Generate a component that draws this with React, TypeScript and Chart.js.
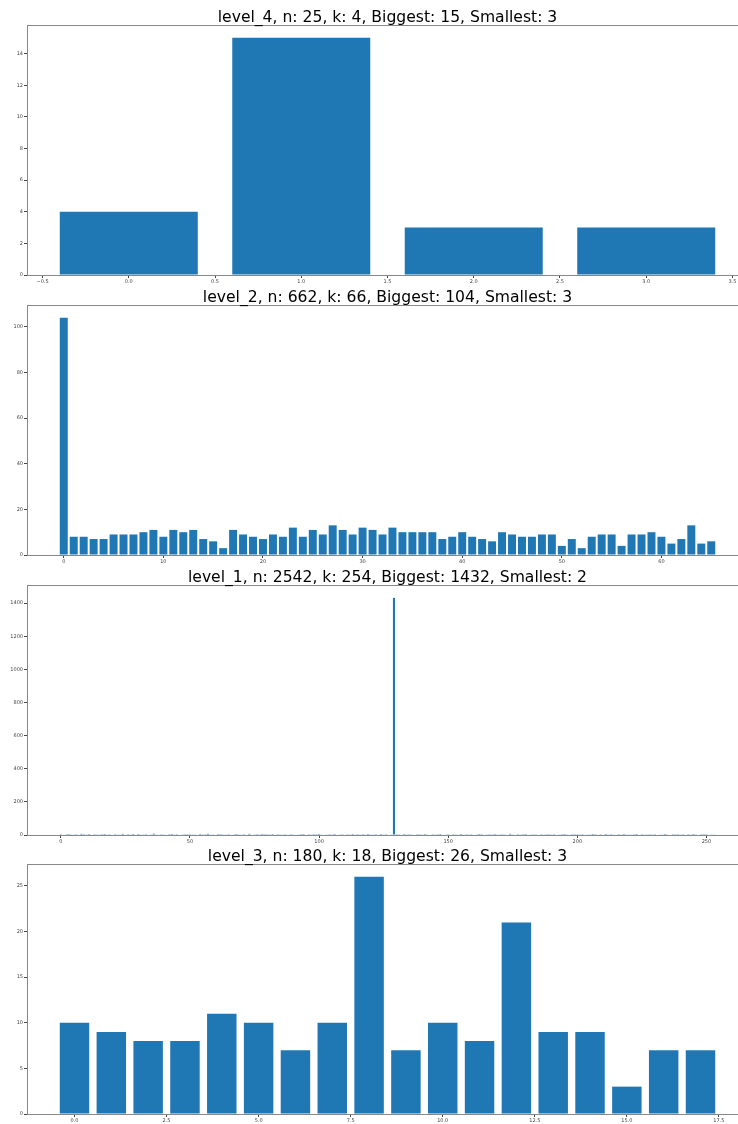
import React, { useEffect, useRef } from "react";
import { Chart, registerables } from "chart.js";

Chart.register(...registerables);

const BAR_COLOR = "#1f77b4";
const SPINE_COLOR = "#888888";
const TICK_COLOR = "#444444";
const FONT = "'DejaVu Sans', 'Liberation Sans', sans-serif";

// level_4 cluster sizes
const level4Values = [4, 15, 3, 3];
const level4XTicks = [-0.5, 0, 0.5, 1, 1.5, 2, 2.5, 3, 3.5];
const level4XLabels = ["\u22120.5", "0.0", "0.5", "1.0", "1.5", "2.0", "2.5", "3.0", "3.5"];
const level4YTicks = [0, 2, 4, 6, 8, 10, 12, 14];

// level_2 cluster sizes
const level2Values = [
  104, 8, 8, 7, 7, 9, 9, 9, 10, 11, 8, 11, 10, 11, 7, 6, 3, 11, 9, 8, 7, 9,
  8, 12, 8, 11, 9, 13, 11, 9, 12, 11, 9, 12, 10, 10, 10, 10, 7, 8, 10, 8, 7, 6, 10, 9,
  8, 8, 9, 9, 4, 7, 3, 8, 9, 9, 4, 9, 9, 10, 8, 5, 7, 13, 5, 6,
];
const level2XTicks = [0, 10, 20, 30, 40, 50, 60];
const level2XLabels = ["0", "10", "20", "30", "40", "50", "60"];
const level2YTicks = [0, 20, 40, 60, 80, 100];

// level_1 cluster sizes
const level1Values = [
  5, 3, 4, 6, 2, 4, 5, 3, 7, 5,
  4, 6, 3, 5, 4, 2, 5, 6, 4, 5,
  3, 5, 4, 4, 7, 3, 5, 4, 6, 3,
  6, 4, 2, 5, 3, 4, 8, 4, 3, 5,
  4, 3, 5, 6, 4, 5, 3, 4, 5, 5,
  5, 4, 4, 3, 6, 2, 5, 7, 4, 4,
  3, 6, 5, 4, 4, 5, 3, 4, 6, 4,
  4, 5, 3, 7, 3, 4, 5, 2, 6, 5,
  5, 4, 6, 3, 5, 4, 4, 5, 3, 5,
  4, 3, 4, 5, 6, 3, 5, 4, 5, 5,
  6, 4, 3, 4, 5, 4, 6, 3, 4, 5,
  3, 5, 4, 6, 4, 5, 2, 5, 4, 6,
  4, 4, 5, 3, 6, 4, 5, 3, 4, 1432,
  5, 4, 3, 6, 4, 5, 4, 3, 5, 5,
  4, 6, 4, 3, 5, 4, 5, 6, 3, 4,
  5, 3, 5, 4, 4, 6, 3, 5, 4, 5,
  3, 4, 6, 5, 3, 4, 5, 4, 6, 4,
  4, 5, 4, 3, 7, 4, 3, 5, 4, 5,
  6, 3, 4, 5, 4, 3, 5, 4, 5, 5,
  4, 5, 3, 4, 5, 6, 4, 3, 5, 5,
  5, 4, 5, 3, 4, 4, 6, 5, 3, 5,
  3, 6, 4, 5, 4, 3, 5, 4, 6, 4,
  4, 4, 5, 6, 3, 5, 4, 4, 5, 4,
  5, 3, 4, 4, 6, 4, 3, 5, 5, 5,
  4, 5, 3, 5, 4, 6, 4, 3, 5, 5,
  5, 3, 4, 4,
];
const level1XTicks = [0, 50, 100, 150, 200, 250];
const level1XLabels = ["0", "50", "100", "150", "200", "250"];
const level1YTicks = [0, 200, 400, 600, 800, 1000, 1200, 1400];

// level_3 cluster sizes
const level3Values = [10, 9, 8, 8, 11, 10, 7, 10, 26, 7, 10, 8, 21, 9, 9, 3, 7, 7];
const level3XTicks = [0, 2.5, 5, 7.5, 10, 12.5, 15, 17.5];
const level3XLabels = ["0.0", "2.5", "5.0", "7.5", "10.0", "12.5", "15.0", "17.5"];
const level3YTicks = [0, 5, 10, 15, 20, 25];

type PanelSpec = {
  name: string;
  values: number[];
  xTicks: number[];
  xLabels: string[];
  yTicks: number[];
  top: number;
};

const panels: PanelSpec[] = [
  { name: "level_4", values: level4Values, xTicks: level4XTicks, xLabels: level4XLabels, yTicks: level4YTicks, top: 26 },
  { name: "level_2", values: level2Values, xTicks: level2XTicks, xLabels: level2XLabels, yTicks: level2YTicks, top: 306 },
  { name: "level_1", values: level1Values, xTicks: level1XTicks, xLabels: level1XLabels, yTicks: level1YTicks, top: 586 },
  { name: "level_3", values: level3Values, xTicks: level3XTicks, xLabels: level3XLabels, yTicks: level3YTicks, top: 865 },
];

const CANVAS_W = 760;
const AXES_LEFT = 27;
const AXES_RIGHT = 748;
const AXES_H = 249;
const TOP_PAD = 26;
const XAXIS_H = 20;
const CANVAS_H = TOP_PAD + AXES_H + XAXIS_H;
const BAR_WIDTH = 0.8; // in data units

function titleFor(name: string, values: number[]) {
  const n = values.reduce((a, b) => a + b, 0);
  const k = values.length;
  const big = Math.max(...values);
  const small = Math.min(...values);
  return `${name}, n: ${n}, k: ${k}, Biggest: ${big}, Smallest: ${small}`;
}

const frameAndTitle = {
  id: "frameAndTitle",
  afterDatasetsDraw(chart: any, _args: any, opts: any) {
    const { ctx, chartArea: a } = chart;
    ctx.save();
    ctx.strokeStyle = SPINE_COLOR;
    ctx.lineWidth = 1;
    ctx.strokeRect(a.left + 0.5, a.top - 0.5, a.right - a.left, a.bottom - a.top + 1);
    ctx.fillStyle = "#000";
    ctx.font = `15.6px ${FONT}`;
    ctx.textAlign = "center";
    ctx.textBaseline = "alphabetic";
    ctx.fillText(opts.text, (a.left + a.right) / 2, a.top - 4.5);
    ctx.restore();
  },
};

function Panel({ spec }: { spec: PanelSpec }) {
  const ref = useRef<HTMLCanvasElement | null>(null);

  useEffect(() => {
    if (!ref.current) return;
    const { values, xTicks, xLabels, yTicks } = spec;
    const span = values.length - 1 + BAR_WIDTH;
    const xMin = -BAR_WIDTH / 2 - 0.05 * span;
    const xMax = values.length - 1 + BAR_WIDTH / 2 + 0.05 * span;
    const yMax = Math.max(...values) * 1.05;

    // Chart.js sizes bars from the smallest gap among data points and ticks,
    // so scale the percentage back to a width of BAR_WIDTH data units.
    let minGap = 1;
    for (let i = 1; i < xTicks.length; i++) minGap = Math.min(minGap, xTicks[i] - xTicks[i - 1]);
    const barPct = BAR_WIDTH / minGap;

    const chart = new Chart(ref.current, {
      type: "bar",
      data: {
        datasets: [
          {
            data: values.map((v, i) => ({ x: i, y: v })),
            backgroundColor: BAR_COLOR,
            borderWidth: 0,
            barPercentage: barPct,
            categoryPercentage: 1.0,
          },
        ],
      },
      options: {
        responsive: false,
        animation: false,
        devicePixelRatio: 1,
        layout: { padding: { top: TOP_PAD, right: CANVAS_W - AXES_RIGHT, left: 0, bottom: 0 } },
        plugins: {
          legend: { display: false },
          tooltip: { enabled: false },
          title: { display: false },
          frameAndTitle: { text: titleFor(spec.name, values) },
        } as any,
        scales: {
          x: {
            type: "linear",
            min: xMin,
            max: xMax,
            offset: false,
            border: { display: false },
            grid: {
              offset: false,
              drawOnChartArea: false,
              drawTicks: true,
              tickLength: 3,
              tickColor: TICK_COLOR,
            },
            ticks: {
              autoSkip: false,
              maxRotation: 0,
              padding: 1,
              color: TICK_COLOR,
              font: { family: FONT, size: 5 },
              callback: (_v: any, i: number) => xLabels[i],
            },
            afterBuildTicks: (s: any) => {
              s.ticks = xTicks.map((v) => ({ value: v }));
            },
            afterFit: (s: any) => {
              s.height = XAXIS_H;
            },
          },
          y: {
            type: "linear",
            min: 0,
            max: yMax,
            border: { display: false },
            grid: {
              offset: false,
              drawOnChartArea: false,
              drawTicks: true,
              tickLength: 3,
              tickColor: TICK_COLOR,
            },
            ticks: {
              padding: 1,
              color: TICK_COLOR,
              font: { family: FONT, size: 5 },
              callback: (v: any) => String(v),
            },
            afterBuildTicks: (s: any) => {
              s.ticks = yTicks.map((v) => ({ value: v }));
            },
            afterFit: (s: any) => {
              s.width = AXES_LEFT;
            },
          },
        },
      } as any,
      plugins: [frameAndTitle],
    });
    return () => chart.destroy();
  }, [spec]);

  return (
    <canvas
      ref={ref}
      width={CANVAS_W}
      height={CANVAS_H}
      style={{
        position: "absolute",
        left: 0,
        top: spec.top - TOP_PAD,
        width: CANVAS_W,
        height: CANVAS_H,
        display: "block",
      }}
    />
  );
}

export default function App() {
  return (
    <div
      style={{
        position: "absolute",
        left: 0,
        top: 0,
        width: 738,
        height: 1124,
        overflow: "hidden",
        background: "#fff",
      }}
    >
      {panels.map((p) => (
        <Panel key={p.name} spec={p} />
      ))}
    </div>
  );
}
